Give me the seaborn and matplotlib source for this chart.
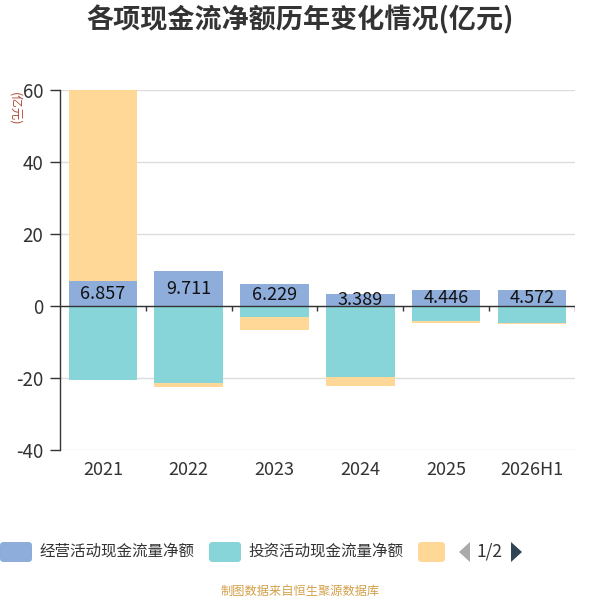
import matplotlib
matplotlib.use("Agg")
import matplotlib.pyplot as plt
import seaborn as sns
import pandas as pd
import numpy as np
from matplotlib.patches import FancyBboxPatch, Polygon

years = ["2021", "2022", "2023", "2024", "2025", "2026H1"]
operating = [6.857, 9.711, 6.229, 3.389, 4.446, 4.572]
investing = [-20.5, -21.5, -3.0, -19.6, -4.2, -4.6]
financing = [53.1, -1.1, -3.7, -2.6, -0.6, -0.5]
labels = ["经营活动现金流量净额", "投资活动现金流量净额", "筹资活动现金流量净额"]
colors = ["#8EADDB", "#87D5D8", "#FFD898"]

sns.set_theme(style="white")
plt.rcParams['font.family'] = ['Noto Sans CJK SC', 'DejaVu Sans']

op = np.array(operating)
inv = np.array(investing)
fin = np.array(financing)
pos_top = op + np.where(fin > 0, fin, 0)
neg_bot = inv + np.where(fin < 0, fin, 0)

df = pd.DataFrame({"year": years, "op": op, "inv": inv, "pos_top": pos_top, "neg_bot": neg_bot})

fig = plt.figure(figsize=(6, 6), dpi=100)
ax = fig.add_axes([0.1, 0.25, 0.858, 0.6])

w = 0.8
sns.barplot(data=df, x="year", y="pos_top", color=colors[2], saturation=1, width=w, ax=ax, linewidth=0)
sns.barplot(data=df, x="year", y="op", color=colors[0], saturation=1, width=w, ax=ax, linewidth=0)
sns.barplot(data=df, x="year", y="neg_bot", color=colors[2], saturation=1, width=w, ax=ax, linewidth=0)
sns.barplot(data=df, x="year", y="inv", color=colors[1], saturation=1, width=w, ax=ax, linewidth=0)

for i, v in enumerate(operating):
    ax.text(i, v / 2, f"{v:.3f}", ha="center", va="center", fontsize=13, color="#111111")

ax.set_ylim(-40, 60)
ax.set_xlim(-0.5, len(years) - 0.5)
ax.set_yticks([-40, -20, 0, 20, 40, 60])
ax.set_yticklabels(["-40", "-20", "0", "20", "40", "60"])
ax.yaxis.grid(True, color="#dddddd", linewidth=1)
ax.set_axisbelow(True)
for s in ["top", "right", "bottom"]:
    ax.spines[s].set_visible(False)
ax.spines["left"].set_color("#333333")
ax.spines["left"].set_linewidth(1)
ax.tick_params(axis="y", length=7, width=1, color="#333333", labelsize=13.5, labelcolor="#333333", left=True, pad=5)
ax.tick_params(axis="x", length=0, labelsize=13, labelcolor="#333333", pad=8)
ax.set_xlabel("")
ax.set_ylabel("")

ax.axhline(0, color="#333333", linewidth=1, zorder=3)
bounds = np.arange(len(years) + 1) - 0.5
ax.vlines(bounds[1:], -1.4, 0, color="#333333", linewidth=1, zorder=3)

fig.text(0.5, 1 - 20 / 600, "各项现金流净额历年变化情况(亿元)", ha="center", va="center",
         fontsize=19.5, fontweight="bold", color="#333333")
fig.text(15 / 600, 1 - 109 / 600, "(亿元)", rotation=-90, ha="center", va="center", fontsize=9, color="#b5503c")

# legend (paged)
def legbox(x0, x1, c):
    fig.patches.append(FancyBboxPatch((x0 / 600, 1 - 562 / 600), (x1 - x0) / 600, 20 / 600,
                                      boxstyle="round,pad=0,rounding_size=0.006",
                                      transform=fig.transFigure, facecolor=c, edgecolor="none"))
legbox(0, 32, colors[0])
fig.text(40 / 600, 1 - 551 / 600, labels[0], ha="left", va="center", fontsize=11.2, color="#333333")
legbox(209, 241, colors[1])
fig.text(248 / 600, 1 - 551 / 600, labels[1], ha="left", va="center", fontsize=11.2, color="#333333")
legbox(418, 445, colors[2])
fig.patches.append(Polygon([(470 / 600, 1 - 542 / 600), (470 / 600, 1 - 562 / 600), (459 / 600, 1 - 552 / 600)],
                           closed=True, transform=fig.transFigure, facecolor="#aaaaaa", edgecolor="none"))
fig.text(490 / 600, 1 - 551 / 600, "1/2", ha="center", va="center", fontsize=12.5, color="#333333")
fig.patches.append(Polygon([(511 / 600, 1 - 542 / 600), (511 / 600, 1 - 562 / 600), (522 / 600, 1 - 552 / 600)],
                           closed=True, transform=fig.transFigure, facecolor="#2f4554", edgecolor="none"))

fig.text(0.5, 1 - 591 / 600, "制图数据来自恒生聚源数据库", ha="center", va="center", fontsize=8.8, color="#d4a04a")

fig.savefig("out.png", dpi=100)
